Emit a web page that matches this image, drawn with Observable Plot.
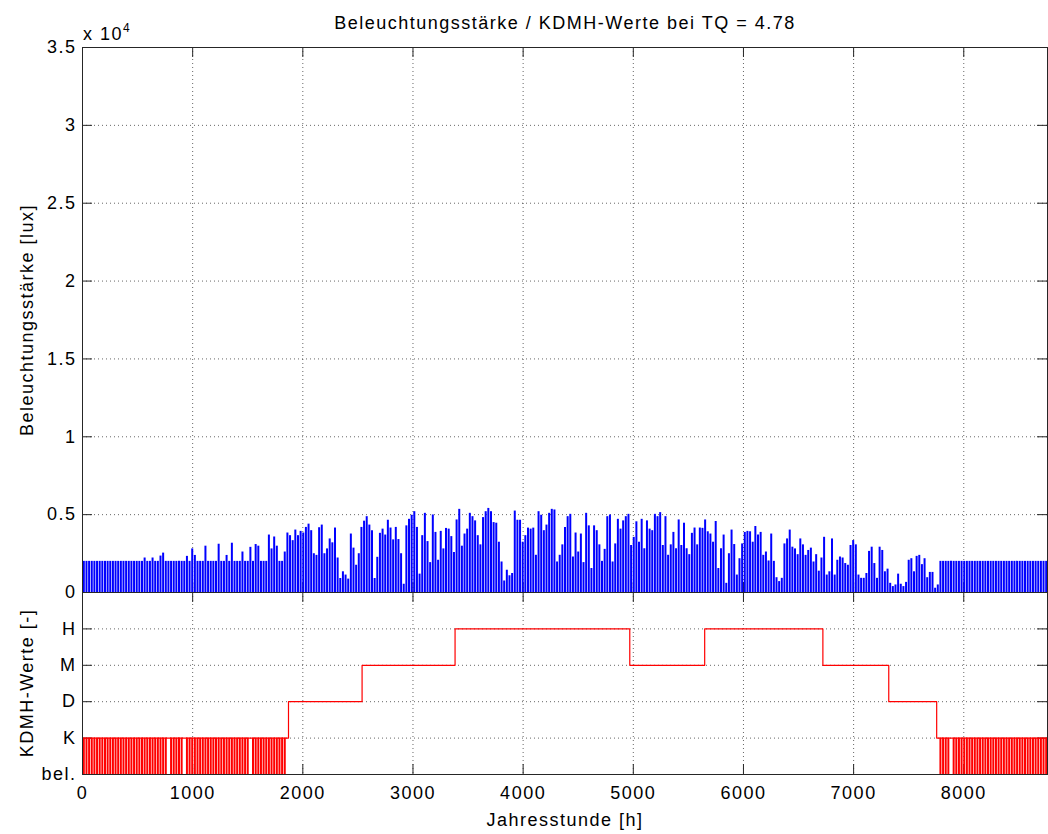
<!DOCTYPE html>
<html><head><meta charset="utf-8">
<script src="https://cdn.jsdelivr.net/npm/d3@7"></script>
<script src="https://cdn.jsdelivr.net/npm/@observablehq/plot@0.6"></script>
<style>
body{margin:0;background:#fff;}
#wrap{position:relative;width:1048px;height:834px;overflow:hidden;font-family:"Liberation Sans",Arial,sans-serif;color:#000;}
.lbl{position:absolute;font-size:18px;letter-spacing:1.5px;white-space:nowrap;line-height:1;}
.c{transform:translate(-50%,-50%);}
.r{transform:translate(-50%,-50%) rotate(-90deg);}
.plotbox{position:absolute;left:0;}
.plotbox svg{overflow:visible;}
</style></head><body><div id="wrap"></div>
<script>
// ---- data ----
const titel = "Beleuchtungsstärke / KDMH-Werte bei TQ = 4.78";
const yLabelOben = "Beleuchtungsstärke [lux]";
const yLabelUnten = "KDMH-Werte [-]";
const xLabel = "Jahresstunde [h]";
const kdmhKategorien = ["bel.", "K", "D", "M", "H"];
const xTicks = [0, 1000, 2000, 3000, 4000, 5000, 6000, 7000, 8000];
const luxTicks = [0, 5000, 10000, 15000, 20000, 25000, 30000, 35000];
const kdmhTicks = [0, 1, 2, 3, 4];

// daily peak illuminance [lux], day 0..364
const tagesMaxLux = [
  2000,2000,2000,2000,2000,2000,2000,2000,2000,2000,
  2000,2000,2000,2000,2000,2000,2000,2000,2000,2000,
  2000,2000,2000,2215,2000,2000,2215,2000,2000,2340,
  2530,2000,2000,2000,2000,2000,2000,2000,2000,2320,
  2000,2800,2380,2000,2000,2000,2975,2000,2000,2000,
  2000,3100,2000,2000,2380,2000,3165,2000,2000,2000,
  2600,2000,2000,2900,2000,3080,2975,2000,2000,2000,
  3690,2800,3565,2975,2000,2000,2600,3820,3650,3330,
  4010,3650,3925,3820,4180,4390,3970,2490,2385,4160,
  4330,2490,2800,3440,3190,4140,2215,900,1330,1120,
  860,3755,2850,1750,2490,4180,4580,4870,4330,3970,
  900,2260,3800,4070,3690,4640,4140,3380,4180,3400,
  2490,530,4280,4700,4960,5190,4180,1180,3650,5085,
  3270,1920,4980,3860,2070,3925,2800,4115,4070,3590,
  2570,4660,5340,2975,3755,4070,5085,4870,4600,3650,
  3060,4810,5190,5400,5190,4490,4450,3230,1960,740,
  1430,1075,1220,5230,4640,4640,3230,3650,4135,4070,
  4135,2390,5190,4960,3970,4330,5085,5340,5300,1960,
  2390,3060,4180,4870,5020,2280,3820,2600,3755,1920,
  5085,4280,1540,4280,3970,3060,2000,2770,4870,4980,
  1960,3120,4700,4070,4600,4870,5020,3020,3540,4540,
  3230,4700,2810,4600,4070,3970,5020,4870,5130,3020,
  4870,2390,3060,3860,2810,4660,3020,4450,2810,2430,
  3800,4140,3060,4140,4120,4660,3900,3755,3230,4560,
  1540,2810,3690,590,2490,4010,3080,1120,2170,3120,
  3860,3925,3900,3230,4240,3690,3860,2385,2600,2025,
  3755,2000,950,700,910,3120,3440,4010,2910,2800,
  2430,3440,3060,2385,2700,2850,1960,2430,1370,2215,
  3545,1120,1330,3440,1120,2070,2280,2215,1860,1750,
  3020,3335,3060,1120,910,910,1220,2640,2910,1860,
  910,2910,2700,1330,1500,590,380,485,1180,530,
  380,650,2070,2170,1330,2320,2385,1790,2170,950,
  1290,1290,275,485,2000,2000,2000,2000,2000,2000,
  2000,2000,2000,2000,2000,2000,2000,2000,2000,2000,
  2000,2000,2000,2000,2000,2000,2000,2000,2000,2000,
  2000,2000,2000,2000,2000,2000,2000,2000,2000,2000,
  2000,2000,2000,2000,2000
];

// KDMH step levels: start hour of each phase and level index (0=bel.,1=K,2=D,3=M,4=H)
const kdmhStunden = [0, 1870, 2538, 3382, 4968, 5648, 6721, 7319, 7754, 8760];
const kdmhStufen  = [1, 2, 3, 4, 3, 4, 3, 2, 1, 1];

// days with artificial lighting (KDMH drops to "bel.")
const belTage = [
  0,1,2,3,4,5,6,7,8,9,10,11,12,13,14,15,16,17,18,19,20,21,22,23,24,25,26,27,28,29,30,31,
  33,34,35,36,37,39,40,41,42,43,44,45,46,47,48,49,50,51,52,53,54,55,56,57,58,59,60,61,62,
  64,65,66,67,68,69,70,71,72,73,74,75,76,
  324,325,326,327,329,330,331,332,333,334,335,336,337,338,339,340,341,342,343,344,345,
  346,347,348,349,350,351,352,353,354,355,356,357,358,359,360,361,362,363,364
];

// ---- layout ----
const W = 1048, H = 834;
const left = 82, right = 1047, topFrame = 47, midLine = 592, bottomFrame = 774;
const frameW = right - left, frameH1 = midLine - topFrame, frameH2 = bottomFrame - midLine;
const font = '"Liberation Sans", Arial, sans-serif';
const blau = "#0000ff", rot = "#ff0000", achse = "#262626";
const gridStyle = {stroke: "#000", strokeOpacity: 0.6, strokeDasharray: "1,3"};
const tickLen = 10;

const luxDaten = tagesMaxLux.map((v, i) => ({stunde: i * 24 + 12, lux: v}));
const stufenDaten = kdmhStunden.map((s, i) => ({stunde: s, stufe: kdmhStufen[i]}));
const belDaten = belTage.map(d => ({stunde: d * 24 + 12}));

const svgStyle = {fontFamily: font, fontSize: "18px", letterSpacing: "1.5px", background: "transparent", overflow: "visible", color: "#000"};

const p1 = Plot.plot({
  width: W, height: midLine + 1,
  marginLeft: left, marginRight: W - right, marginTop: topFrame, marginBottom: 1,
  style: svgStyle,
  x: {domain: [0, 8760], axis: null},
  y: {domain: [0, 35000]},
  marks: [
    Plot.ruleX(xTicks.slice(1), gridStyle),
    Plot.ruleY(luxTicks.slice(1, -1), gridStyle),
    Plot.ruleX(xTicks, {stroke: achse, insetTop: frameH1 - tickLen}),
    Plot.ruleX(xTicks, {stroke: achse, insetBottom: frameH1 - tickLen}),
    Plot.ruleY(luxTicks, {stroke: achse, insetRight: frameW - tickLen}),
    Plot.ruleY(luxTicks, {stroke: achse, insetLeft: frameW - tickLen}),
    Plot.ruleX(luxDaten, {x: "stunde", y1: 0, y2: "lux", stroke: blau, strokeWidth: 2}),
    Plot.frame({stroke: achse}),
    Plot.axisY(luxTicks, {tickSize: 0, tickPadding: 6, tickFormat: d => String(d / 1e4), label: null, fontSize: 18})
  ]
});

const top2 = 560;
const p2 = Plot.plot({
  width: W, height: H - top2,
  marginLeft: left, marginRight: W - right, marginTop: midLine - top2, marginBottom: H - bottomFrame,
  style: svgStyle,
  x: {domain: [0, 8760]},
  y: {domain: [0, 5]},
  marks: [
    Plot.ruleX(xTicks.slice(1), gridStyle),
    Plot.ruleY(kdmhTicks.slice(1), gridStyle),
    Plot.ruleX(xTicks, {stroke: achse, insetTop: frameH2 - tickLen}),
    Plot.ruleX(xTicks, {stroke: achse, insetBottom: frameH2 - tickLen}),
    Plot.ruleY(kdmhTicks, {stroke: achse, insetRight: frameW - tickLen}),
    Plot.ruleY(kdmhTicks, {stroke: achse, insetLeft: frameW - tickLen}),
    Plot.ruleX(belDaten, {x: "stunde", y1: 0, y2: 1, stroke: rot, strokeWidth: 2}),
    Plot.line(stufenDaten, {x: "stunde", y: "stufe", curve: "step-after", stroke: rot, strokeWidth: 1.2}),
    Plot.frame({stroke: achse}),
    Plot.axisY(kdmhTicks, {tickSize: 0, tickPadding: 6, tickFormat: d => kdmhKategorien[d], label: null, fontSize: 18}),
    Plot.axisX(xTicks, {tickSize: 0, tickPadding: 12, tickFormat: d => String(d), label: null, fontSize: 18})
  ]
});

const wrap = document.getElementById("wrap");
function box(el, top) { const d = document.createElement("div"); d.className = "plotbox"; d.style.top = top + "px"; d.appendChild(el); wrap.appendChild(d); }
box(p1, 0);
box(p2, top2);
function lbl(html, x, y, cls) { const d = document.createElement("div"); d.className = "lbl " + cls; d.style.left = x + "px"; d.style.top = y + "px"; d.innerHTML = html; wrap.appendChild(d); }
lbl(titel, 565, 23, "c");
lbl('x 10<sup style="font-size:12px;vertical-align:8px">4</sup>', 83, 22, "");
lbl(yLabelOben, 27, 320, "r");
lbl(yLabelUnten, 27, 683, "r");
lbl(xLabel, 565, 820, "c");
</script></body></html>
